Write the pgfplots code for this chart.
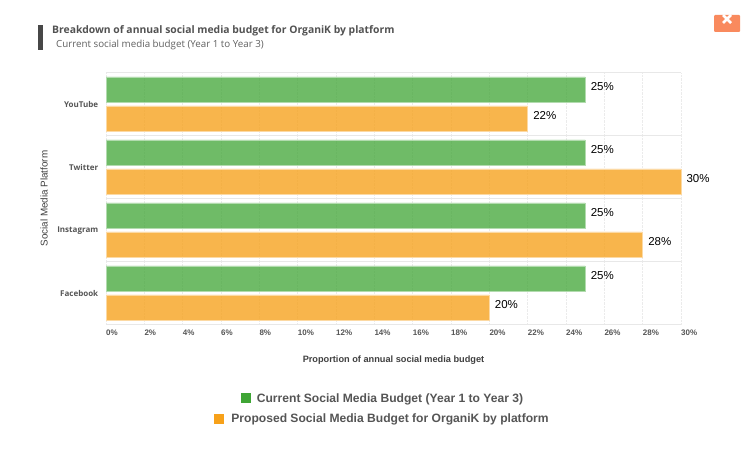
\documentclass[border=0pt]{standalone}
\usepackage{pgfplots}
\pgfplotsset{compat=1.18}
\usepackage{fontspec}
\setmainfont{Liberation Sans}
\newfontfamily\opensans{Open Sans}
\definecolor{gbar}{HTML}{3FA535}
\definecolor{obar}{HTML}{F7A11A}
\definecolor{txt}{HTML}{555555}
\definecolor{closebtn}{HTML}{F98A5E}
\begin{document}
\begin{tikzpicture}[x=1pt,y=1pt]
  \path[use as bounding box,fill=white] (0,0) rectangle (752,449);
  % title block
  \fill[black!72] (38,399) rectangle (43,424);
  \node[anchor=west,inner sep=0,text=black!68] at (52,418) {\opensans\fontsize{10.36}{13}\selectfont\bfseries Breakdown of annual social media budget for OrganiK by platform};
  \node[anchor=west,inner sep=0,text=black!62] at (56,404) {\opensans\fontsize{9.77}{12}\selectfont Current social media budget (Year 1 to Year 3)};
  % close button
  \fill[closebtn,rounded corners=1pt] (714,417) rectangle (740,434);
  \draw[white,line width=2.6pt] (723,426) -- (731,434) (731,426) -- (723,434);
  \begin{axis}[
    at={(106pt,124.5pt)}, anchor=south west,
    scale only axis, width=575pt, height=252pt,
    xmin=0, xmax=30, ymin=-0.5, ymax=3.5,
    xbar, bar width=25pt,
    xtick={0,2,...,30},
    xticklabel={\pgfmathprintnumber{\tick}\%},
    ytick={0,1,2,3},
    yticklabels={Facebook,Instagram,Twitter,YouTube},
    minor ytick={-0.5,0.5,1.5,2.5,3.5},
    tick style={draw=none}, minor tick style={draw=none},
    xmajorgrids, yminorgrids,
    major grid style={black!8,densely dotted,line width=.6pt},
    minor grid style={black!9,line width=.5pt},
    axis line style={draw=none},
    clip=false,
    x tick label style={font=\fontsize{8}{10}\selectfont\bfseries,text=txt,anchor=north west,inner xsep=0pt,yshift=-1.5pt},
    y tick label style={font=\opensans\fontsize{8}{10}\selectfont\bfseries,text=txt,yshift=-1pt},
    /pgf/number format/assume math mode=true,
    xlabel={Proportion of annual social media budget},
    ylabel={Social Media Platform},
    xlabel style={font=\fontsize{9.2}{10}\selectfont\bfseries,text=black!75,at={(axis description cs:0.5,0)},anchor=center,yshift=-35.5pt},
    ylabel style={font=\fontsize{9.85}{10}\selectfont,text=black!75,at={(axis description cs:0,0.5)},anchor=center,yshift=62pt},
    nodes near coords={\pgfmathprintnumber{\pgfplotspointmeta}\%},
    point meta=x,
    every node near coord/.append style={font=\fontsize{11.5}{14}\selectfont,text=black,anchor=west,xshift=2pt,yshift=3pt},
  ]
    \addplot+[bar shift=14.5pt,draw=gbar!40,line width=.5pt,fill=gbar,fill opacity=.75,text opacity=1] coordinates {(25,0) (25,1) (25,2) (25,3)};
    \addplot+[bar shift=-14.5pt,draw=obar!40,line width=.5pt,fill=obar,fill opacity=.78,text opacity=1] coordinates {(20,0) (28,1) (30,2) (22,3)};
  \end{axis}
  % legend
  \node[anchor=center,inner sep=0,text=txt,font=\fontsize{12.1}{14}\selectfont\bfseries] at (382,50) {\textcolor{gbar}{\rule[-1pt]{10pt}{10pt}}\hspace{6pt}Current Social Media Budget (Year 1 to Year 3)};
  \node[anchor=center,inner sep=0,text=txt,font=\fontsize{12.1}{14}\selectfont\bfseries] at (381.5,29.5) {\textcolor{obar}{\rule[-1pt]{10pt}{10pt}}\hspace{7pt}Proposed Social Media Budget for OrganiK by platform};
\end{tikzpicture}
\end{document}
